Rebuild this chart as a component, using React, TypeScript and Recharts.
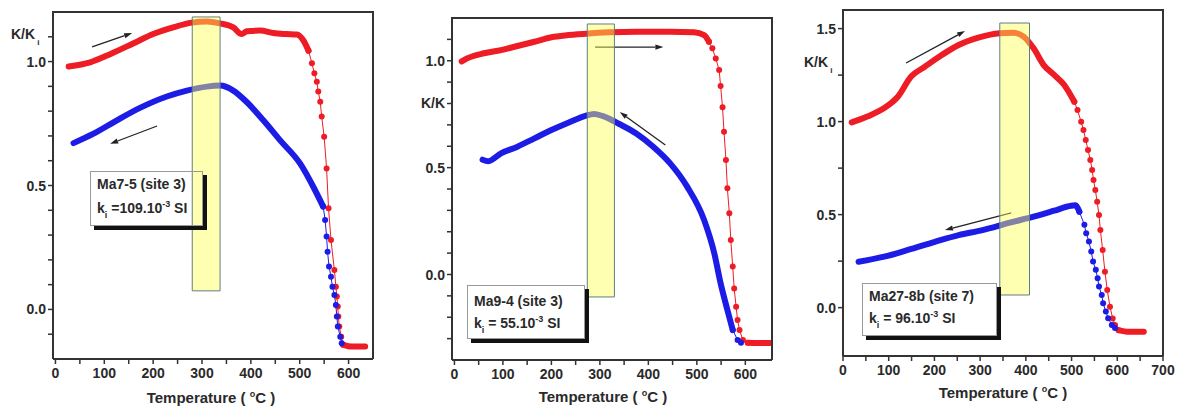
import React from 'react';
import { LineChart, Line, XAxis, YAxis, ReferenceArea, ReferenceLine } from 'recharts';

type Pt = [number, number];

// Ma7-5 (site 3): [temperature °C, K/Ki]
const ma75Heating: Pt[] = [
  [27, 0.98], [71, 0.997], [112, 1.03], [160, 1.074], [200, 1.111], [241, 1.138], [279, 1.157],
  [310, 1.162], [337, 1.154], [364, 1.138], [381, 1.111], [392, 1.122], [419, 1.125], [446, 1.115],
  [473, 1.111], [494, 1.109], [507, 1.087], [518, 1.044],
  [525, 0.993], [530, 0.953], [535, 0.919], [538, 0.879], [542, 0.838], [545, 0.778], [550, 0.697],
  [555, 0.569], [559, 0.408], [564, 0.28], [571, 0.159], [574, 0.092], [576, 0.052], [578, 0.012],
  [579, -0.029], [581, -0.069], [585, -0.11], [589, -0.143], [607, -0.15], [634, -0.15],
];
const ma75Cooling: Pt[] = [
  [37, 0.671], [78, 0.709], [125, 0.762], [173, 0.813], [228, 0.859], [269, 0.883], [310, 0.899],
  [337, 0.903], [364, 0.883], [392, 0.836], [426, 0.762], [460, 0.682], [501, 0.588], [528, 0.494],
  [548, 0.415],
  [552, 0.361], [555, 0.294], [557, 0.233], [560, 0.173], [564, 0.132], [567, 0.092], [571, 0.058],
  [574, 0.018], [576, -0.029], [578, -0.069], [583, -0.11], [586, -0.136],
];

// Ma9-4 (site 3)
const ma94Heating: Pt[] = [
  [15, 0.997], [26, 1.011], [61, 1.035], [96, 1.05], [130, 1.069], [165, 1.089], [200, 1.11],
  [235, 1.12], [277, 1.128], [319, 1.133], [375, 1.136], [445, 1.136], [494, 1.133], [515, 1.12],
  [525, 1.089],
  [532, 1.058], [539, 1.011], [546, 0.957], [549, 0.882], [553, 0.782], [556, 0.668], [560, 0.536],
  [563, 0.403], [567, 0.286], [570, 0.161], [574, 0.037], [577, -0.065], [581, -0.151], [584, -0.213],
  [588, -0.26], [595, -0.306], [605, -0.319], [628, -0.32], [651, -0.32],
];
const ma94Cooling: Pt[] = [
  [58, 0.537], [70, 0.53], [96, 0.567], [130, 0.598], [165, 0.637], [200, 0.676], [235, 0.71],
  [270, 0.742], [288, 0.751], [305, 0.742], [340, 0.704], [375, 0.66], [410, 0.598], [445, 0.52],
  [480, 0.411], [515, 0.255], [536, 0.099], [549, -0.041], [563, -0.166], [574, -0.26],
  [584, -0.306], [591, -0.319],
];

// Ma27-8b (site 7)
const ma278bHeating: Pt[] = [
  [19, 0.996], [53, 1.027], [97, 1.084], [120, 1.134], [149, 1.242], [179, 1.295], [216, 1.358],
  [253, 1.412], [298, 1.453], [343, 1.475], [372, 1.478], [395, 1.457], [417, 1.394], [439, 1.304],
  [462, 1.251], [484, 1.197], [506, 1.107],
  [513, 1.062], [521, 0.999], [526, 0.955], [531, 0.901], [536, 0.847], [541, 0.794], [545, 0.74],
  [548, 0.686], [552, 0.632], [556, 0.569], [560, 0.498], [563, 0.417], [568, 0.31], [573, 0.193],
  [578, 0.095], [584, 0.005], [590, -0.058], [595, -0.094], [603, -0.121], [625, -0.13], [658, -0.13],
];
const ma278bCooling: Pt[] = [
  [34, 0.247], [90, 0.274], [142, 0.31], [201, 0.354], [253, 0.39], [305, 0.417], [365, 0.457],
  [417, 0.489], [462, 0.521], [499, 0.548], [508, 0.55], [517, 0.516],
  [528, 0.446], [532, 0.4], [538, 0.355], [543, 0.302], [547, 0.248], [553, 0.203], [557, 0.158],
  [560, 0.113], [566, 0.068], [569, 0.024], [575, -0.021], [580, -0.057], [588, -0.093], [595, -0.11],
];

// part of each curve drawn as separate dots: [from, to]
const ma75HeatingDots: Pt = [518, 589];
const ma75CoolingDots: Pt = [548, 586];
const ma94HeatingDots: Pt = [525, 605];
const ma94CoolingDots: Pt = [574, 591];
const ma278bHeatingDots: Pt = [506, 603];
const ma278bCoolingDots: Pt = [517, 595];

// ticks
const xTicks650 = [0, 50, 100, 150, 200, 250, 300, 350, 400, 450, 500, 550, 600];
const xTicks700 = [0, 50, 100, 150, 200, 250, 300, 350, 400, 450, 500, 550, 600, 650, 700];
const yTicksMa75 = [-0.1, 0, 0.1, 0.2, 0.3, 0.4, 0.5, 0.6, 0.7, 0.8, 0.9, 1.0, 1.1];
const yTicksMa94 = [-0.3, -0.2, -0.1, 0, 0.1, 0.2, 0.3, 0.4, 0.5, 0.6, 0.7, 0.8, 0.9, 1.0, 1.1];
const yTicksMa278b = [0, 0.25, 0.5, 0.75, 1.0, 1.25, 1.5];

// highlighted temperature band [T1, T2, K1, K2]
const ma75Band = [280, 337, 0.075, 1.18];
const ma94Band = [274, 330, -0.105, 1.172];
const ma278bBand = [343, 408, 0.068, 1.53];

// arrows [T tail, K tail, T head, K head]
const ma75Arrows = [[75, 1.059, 157, 1.115], [208, 0.74, 112, 0.668]];
const ma94Arrows = [[290, 1.064, 431, 1.064], [435, 0.606, 341, 0.76]];
const ma278bArrows = [[138, 1.315, 267, 1.487], [368, 0.509, 223, 0.417]];

const RED = '#ee1c24';
const BLUE = '#1c1ce6';
const INK = '#2a2a2a';
const AXIS = '#333333';
const FONT = '"Liberation Sans", Arial, sans-serif';
const PLOT_W = 320;

const rows = (pts: Pt[]) => pts.map(([t, k]) => ({ t, k }));
const head = (pts: Pt[], r: Pt) => rows(pts.filter((p) => p[0] <= r[0]));
const dots = (pts: Pt[], r: Pt) => rows(pts.filter((p) => p[0] >= r[0] && p[0] <= r[1]));
const tail = (pts: Pt[], r: Pt) => rows(pts.filter((p) => p[0] >= r[1]));

const Arrow = (props: any) => {
  const { x1, y1, x2, y2 } = props;
  const a = Math.atan2(y2 - y1, x2 - x1);
  const bx = x2 - 8 * Math.cos(a);
  const by = y2 - 8 * Math.sin(a);
  const px = -Math.sin(a) * 2.6;
  const py = Math.cos(a) * 2.6;
  return (
    <g>
      <line x1={x1} y1={y1} x2={bx} y2={by} stroke="#222" strokeWidth={1.3} />
      <polygon points={`${x2},${y2} ${bx + px},${by + py} ${bx - px},${by - py}`} fill="#222" />
    </g>
  );
};

const tickText = { fontSize: 14, fontWeight: 700, fill: INK, fontFamily: FONT };

const xTick = (axisY: number) => (props: any) => {
  const { x, payload } = props;
  const v = payload.value as number;
  if (v % 100 !== 0) return <g />;
  return (
    <text x={x} y={axisY + 19} textAnchor="middle" {...tickText}>
      {v}
    </text>
  );
};

const yTick = (axisX: number) => (props: any) => {
  const { y, payload } = props;
  const v = payload.value as number;
  if (Math.abs(v * 2 - Math.round(v * 2)) > 1e-6) return <g />;
  return (
    <text x={axisX - 7} y={y + 5} textAnchor="end" {...tickText}>
      {v.toFixed(1)}
    </text>
  );
};

interface PanelProps {
  left: number;
  width: number;
  yAxisWidth: number;
  top: number;
  xAxisHeight: number;
  xDomain: number[];
  xTicks: number[];
  yDomain: number[];
  yTicks: number[];
  heating: Pt[];
  heatingDots: Pt;
  cooling: Pt[];
  coolingDots: Pt;
  band: number[];
  arrows: number[][];
}

function Curve(pts: Pt[], r: Pt, color: string, key: string) {
  const parts = [
    { id: 'h', data: head(pts, r), thick: true },
    { id: 'd', data: dots(pts, r), thick: false },
    { id: 't', data: tail(pts, r), thick: true },
  ].filter((p) => p.data.length > 1);
  return parts.map((p) =>
    p.thick ? (
      <Line
        key={key + p.id}
        data={p.data}
        dataKey="k"
        type="monotone"
        stroke={color}
        strokeWidth={6}
        strokeLinecap="round"
        strokeLinejoin="round"
        dot={false}
        activeDot={false}
        isAnimationActive={false}
      />
    ) : (
      <Line
        key={key + p.id}
        data={p.data}
        dataKey="k"
        type="linear"
        stroke={color}
        strokeWidth={1}
        dot={{ r: 3, fill: color, stroke: 'none' }}
        activeDot={false}
        isAnimationActive={false}
      />
    )
  );
}

function Panel(p: PanelProps) {
  const height = 411;
  const axisY = height - p.xAxisHeight;
  return (
    <div style={{ position: 'absolute', left: p.left, top: 0, width: p.width, height }}>
      <LineChart width={p.width} height={height} margin={{ top: p.top, right: p.width - p.yAxisWidth - PLOT_W, bottom: 0, left: 0 }}>
        <XAxis
          dataKey="t"
          type="number"
          domain={p.xDomain}
          ticks={p.xTicks}
          interval={0}
          allowDataOverflow
          height={p.xAxisHeight}
          stroke={AXIS}
          axisLine={{ stroke: AXIS, strokeWidth: 2 }}
          tickLine={{ stroke: AXIS, strokeWidth: 1.5 }}
          tickSize={5}
          tick={xTick(axisY)}
        />
        <YAxis
          type="number"
          domain={p.yDomain}
          ticks={p.yTicks}
          interval={0}
          allowDataOverflow
          width={p.yAxisWidth}
          stroke={AXIS}
          axisLine={{ stroke: AXIS, strokeWidth: 2 }}
          tickLine={{ stroke: AXIS, strokeWidth: 1.5 }}
          tickSize={5}
          tick={yTick(p.yAxisWidth)}
        />
        {Curve(p.heating, p.heatingDots, RED, 'heat')}
        {Curve(p.cooling, p.coolingDots, BLUE, 'cool')}
        <ReferenceArea
          x1={p.band[0]}
          x2={p.band[1]}
          y1={p.band[2]}
          y2={p.band[3]}
          fill="#ffff55"
          fillOpacity={0.45}
          stroke="#5f7f7f"
          strokeWidth={1}
          ifOverflow="visible"
          zIndex={700}
        />
        {p.arrows.map((a, i) => (
          <ReferenceLine
            key={i}
            segment={[{ x: a[0], y: a[1] }, { x: a[2], y: a[3] }]}
            shape={Arrow}
            ifOverflow="visible"
          />
        ))}
      </LineChart>
      {/* top and right edges of the plot frame */}
      <div style={{ position: 'absolute', left: p.yAxisWidth - 1, top: p.top - 1, width: PLOT_W + 2, height: 0, borderTop: '2px solid ' + AXIS }} />
      <div style={{ position: 'absolute', left: p.yAxisWidth + PLOT_W - 1, top: p.top - 1, width: 0, height: axisY - p.top + 1, borderLeft: '2px solid ' + AXIS }} />
    </div>
  );
}

const textStyle: React.CSSProperties = {
  position: 'absolute',
  fontFamily: FONT,
  fontWeight: 700,
  color: INK,
  whiteSpace: 'nowrap',
};

function InfoBox(props: { left: number; top: number; width: number; height: number; padTop: number; lh: number; name: string; ki: string }) {
  return (
    <div
      style={{
        ...textStyle,
        left: props.left,
        top: props.top,
        width: props.width,
        height: props.height,
        boxSizing: 'border-box',
        border: '1px solid #999',
        boxShadow: '4px 4px 0 #111',
        paddingTop: props.padTop,
        paddingLeft: 6,
        fontSize: 14,
      }}
    >
      <div style={{ height: props.lh, lineHeight: props.lh + 'px' }}>{props.name}</div>
      <div style={{ height: props.lh, lineHeight: props.lh + 'px' }}>
        k<span style={{ fontSize: 9, position: 'relative', top: 5 }}>i</span>
        {props.ki}
        <span style={{ fontSize: 9, position: 'relative', top: -6 }}>-3</span> SI
      </div>
    </div>
  );
}

function AxisTitle(props: { cx: number; cy: number }) {
  return (
    <div style={{ ...textStyle, left: props.cx - 100, top: props.cy - 9, width: 200, textAlign: 'center', fontSize: 15, lineHeight: '18px' }}>
      Temperature ({' '}
      <span style={{ fontSize: 9, position: 'relative', top: -6 }}>o</span>C )
    </div>
  );
}

function KLabel(props: { left: number; cy: number; sub: boolean }) {
  return (
    <div style={{ ...textStyle, left: props.left, top: props.cy - 9, fontSize: 14, lineHeight: '18px' }}>
      K/K{props.sub && <span style={{ fontSize: 8, position: 'relative', top: 6, marginLeft: 2 }}>i</span>}
    </div>
  );
}

export default function App() {
  return (
    <div style={{ position: 'absolute', left: 0, top: 0, width: 1178, height: 411, background: '#fff', overflow: 'hidden' }}>
      <Panel
        left={0}
        width={392}
        yAxisWidth={53}
        top={12}
        xAxisHeight={52}
        xDomain={[-5, 650]}
        xTicks={xTicks650}
        yDomain={[-0.2, 1.2]}
        yTicks={yTicksMa75}
        heating={ma75Heating}
        heatingDots={ma75HeatingDots}
        cooling={ma75Cooling}
        coolingDots={ma75CoolingDots}
        band={ma75Band}
        arrows={ma75Arrows}
      />
      <Panel
        left={400}
        width={385}
        yAxisWidth={52}
        top={18}
        xAxisHeight={51}
        xDomain={[-5, 655]}
        xTicks={xTicks650}
        yDomain={[-0.4, 1.2]}
        yTicks={yTicksMa94}
        heating={ma94Heating}
        heatingDots={ma94HeatingDots}
        cooling={ma94Cooling}
        coolingDots={ma94CoolingDots}
        band={ma94Band}
        arrows={ma94Arrows}
      />
      <Panel
        left={790}
        width={388}
        yAxisWidth={53}
        top={10}
        xAxisHeight={55}
        xDomain={[0, 700]}
        xTicks={xTicks700}
        yDomain={[-0.26, 1.6]}
        yTicks={yTicksMa278b}
        heating={ma278bHeating}
        heatingDots={ma278bHeatingDots}
        cooling={ma278bCooling}
        coolingDots={ma278bCoolingDots}
        band={ma278bBand}
        arrows={ma278bArrows}
      />
      <KLabel left={11} cy={34} sub />
      <KLabel left={421} cy={103} sub={false} />
      <KLabel left={804} cy={62} sub />
      <AxisTitle cx={211} cy={398} />
      <AxisTitle cx={603} cy={397} />
      <AxisTitle cx={1003} cy={393} />
      <InfoBox left={90} top={171} width={113} height={55} padTop={0} lh={24} name="Ma7-5 (site 3)" ki=" =109.10" />
      <InfoBox left={467} top={285} width={118} height={54} padTop={4} lh={22} name="Ma9-4 (site 3)" ki=" = 55.10" />
      <InfoBox left={862} top={283} width={135} height={53} padTop={1} lh={22} name="Ma27-8b (site 7)" ki=" = 96.10" />
    </div>
  );
}
